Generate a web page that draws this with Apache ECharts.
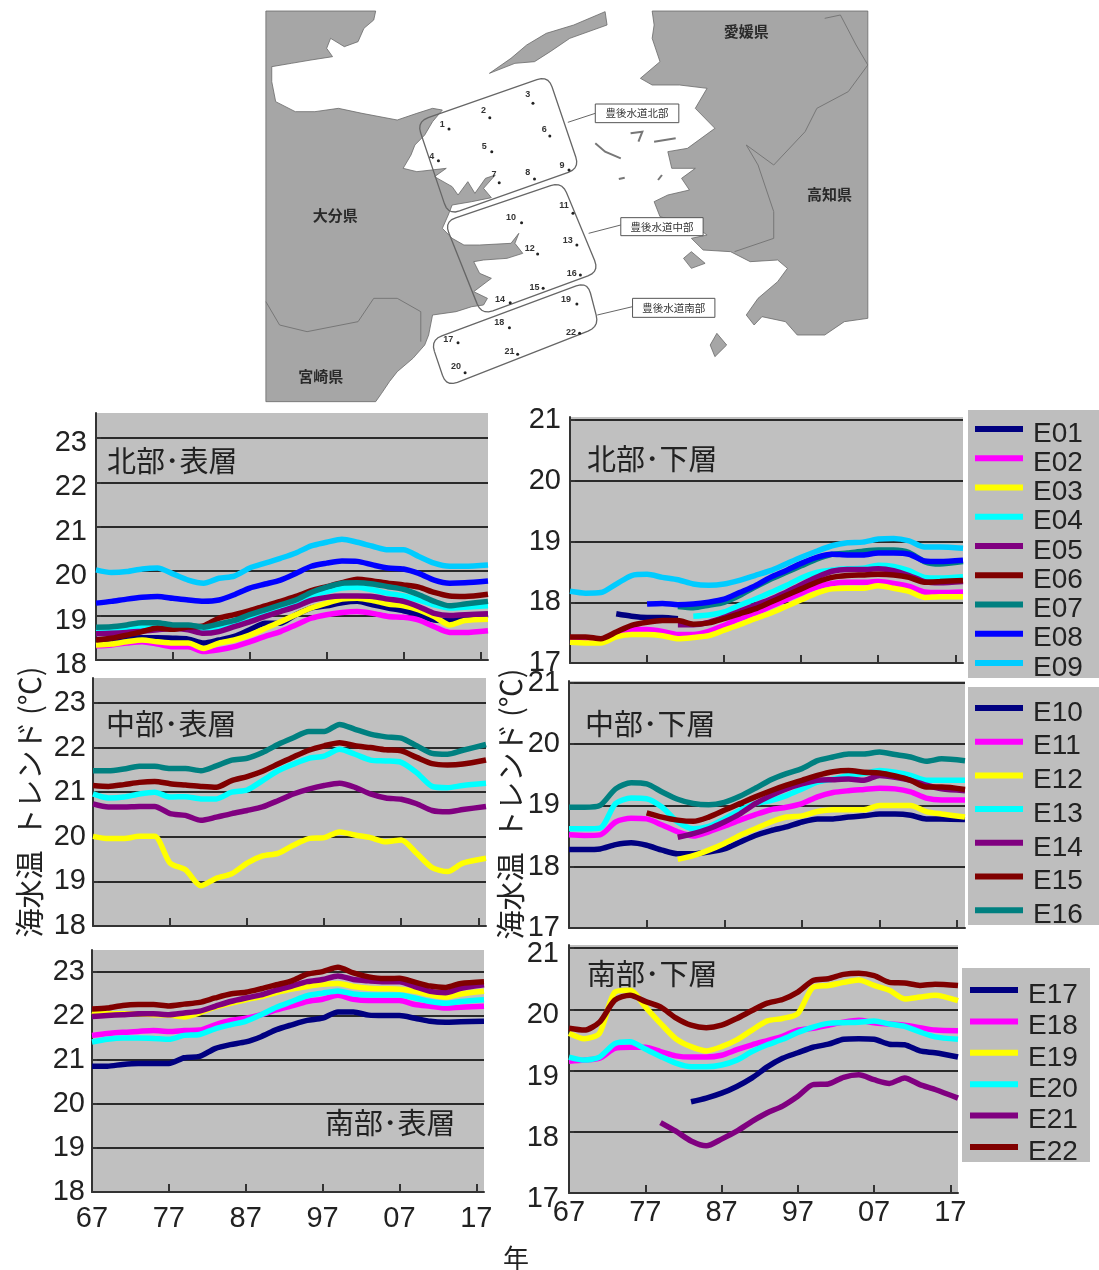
<!DOCTYPE html>
<html><head><meta charset="utf-8">
<style>html,body{margin:0;padding:0;background:#fff}#c{width:1099px;height:1270px;filter:blur(0.5px)}</style>
<script src="https://cdn.jsdelivr.net/npm/echarts@6/dist/echarts.min.js"></script>
</head><body><div id="c"></div>
<script>
const years=[1967,1969,1971,1973,1975,1977,1979,1981,1983,1985,1987,1989,1991,1993,1995,1997,1999,2001,2003,2005,2007,2009,2011,2013,2015,2018];
const tickYears=[1967,1977,1987,1997,2007,2017];
const _=null;
// 北部・表層
const nsE01=[18.45,18.47,18.49,18.50,18.50,18.49,18.47,18.38,18.45,18.53,18.68,18.83,18.83,19.02,19.17,19.22,19.29,19.32,19.24,19.17,19.11,19.02,18.90,18.89,18.96,19.02];
const nsE02=[18.32,18.34,18.38,18.41,18.36,18.30,18.30,18.19,18.23,18.30,18.41,18.53,18.64,18.79,18.94,19.02,19.07,19.09,19.05,18.98,18.96,18.90,18.75,18.62,18.62,18.66];
const nsE03=[18.34,18.36,18.41,18.45,18.41,18.38,18.38,18.26,18.38,18.45,18.56,18.71,18.86,19.02,19.17,19.28,19.37,19.39,19.34,19.26,19.22,19.13,18.98,18.79,18.89,18.92];
const nsE04=[18.64,18.66,18.69,18.75,18.77,18.75,18.75,18.68,18.71,18.81,18.94,19.09,19.20,19.32,19.43,19.54,19.62,19.64,19.58,19.50,19.44,19.35,19.24,19.17,19.19,19.22];
const nsE05=[18.59,18.60,18.62,18.65,18.68,18.71,18.68,18.60,18.64,18.75,18.86,18.98,19.09,19.20,19.34,19.41,19.44,19.44,19.43,19.37,19.32,19.20,19.05,19.00,19.02,19.04];
const nsE06=[18.45,18.49,18.56,18.64,18.72,18.69,18.74,18.77,18.94,19.02,19.11,19.22,19.32,19.43,19.56,19.65,19.74,19.82,19.78,19.73,19.69,19.64,19.52,19.44,19.43,19.48];
const nsE07=[18.74,18.75,18.79,18.84,18.84,18.79,18.79,18.74,18.81,18.89,19.02,19.13,19.24,19.35,19.52,19.64,19.73,19.74,19.71,19.65,19.59,19.47,19.32,19.22,19.26,19.32];
const nsE08=[19.28,19.32,19.37,19.41,19.43,19.39,19.35,19.32,19.35,19.47,19.62,19.71,19.80,19.95,20.11,20.18,20.23,20.22,20.14,20.07,20.05,19.95,19.80,19.73,19.74,19.78];
const nsE09=[20.03,19.97,19.99,20.05,20.07,19.94,19.80,19.73,19.84,19.89,20.07,20.18,20.29,20.41,20.57,20.65,20.72,20.65,20.56,20.48,20.48,20.33,20.18,20.11,20.11,20.14];
// 北部・下層
const nbE01=[_,_,_,17.81,17.77,17.75,17.75,17.73,_,_,_,_,_,_,_,_,_,_,_,_,_,_,_,_,_,_];
const nbE02=[17.37,17.36,17.36,17.48,17.55,17.55,17.52,17.47,17.47,17.52,17.62,17.73,17.82,17.93,18.04,18.15,18.25,18.31,18.33,18.33,18.34,18.31,18.26,18.17,18.16,18.17];
const nbE03=[17.34,17.33,17.33,17.43,17.47,17.47,17.45,17.40,17.42,17.45,17.54,17.63,17.73,17.82,17.93,18.04,18.15,18.22,18.23,18.23,18.27,18.23,18.18,18.08,18.09,18.09];
const nbE04=[_,_,_,_,_,_,_,_,17.77,17.79,17.84,17.95,18.05,18.16,18.27,18.40,18.49,18.53,18.55,18.56,18.61,18.59,18.52,18.41,18.40,18.42];
const nbE05=[_,_,_,_,_,_,_,17.63,17.63,17.67,17.75,17.85,17.95,18.05,18.16,18.29,18.41,18.51,18.54,18.54,18.55,18.52,18.44,18.34,18.32,18.34];
const nbE06=[17.43,17.43,17.40,17.51,17.62,17.67,17.70,17.70,17.64,17.66,17.73,17.81,17.89,18.00,18.11,18.22,18.33,18.41,18.44,18.45,18.46,18.45,18.41,18.33,18.34,18.36];
const nbE07=[_,_,_,_,_,_,_,17.93,17.91,17.95,18.00,18.11,18.25,18.38,18.49,18.60,18.71,18.79,18.81,18.84,18.86,18.86,18.82,18.67,18.63,18.67];
const nbE08=[_,_,_,_,_,17.97,17.98,17.96,17.97,18.00,18.05,18.16,18.27,18.41,18.52,18.64,18.74,18.79,18.78,18.78,18.81,18.81,18.79,18.68,18.67,18.69];
const nbE09=[18.18,18.15,18.16,18.30,18.44,18.46,18.41,18.37,18.30,18.28,18.30,18.36,18.44,18.52,18.63,18.74,18.84,18.93,18.98,18.99,19.04,19.05,19.01,18.91,18.91,18.89];
// 中部・表層
const msE12=[20.01,19.96,19.96,20.01,20.01,19.41,19.26,18.90,19.07,19.17,19.41,19.57,19.63,19.81,19.96,19.98,20.11,20.04,19.98,19.89,19.93,19.63,19.31,19.22,19.41,19.52];
const msE13=[20.96,20.87,20.89,20.96,21.00,20.89,20.90,20.85,20.85,21.00,21.05,21.26,21.48,21.63,21.76,21.81,21.96,21.85,21.72,21.70,21.67,21.44,21.13,21.10,21.15,21.20];
const msE14=[20.74,20.67,20.67,20.68,20.68,20.52,20.48,20.37,20.44,20.52,20.59,20.67,20.81,20.96,21.07,21.15,21.20,21.11,20.96,20.87,20.84,20.74,20.59,20.56,20.61,20.68];
const msE15=[21.15,21.13,21.17,21.22,21.24,21.19,21.16,21.13,21.11,21.26,21.35,21.47,21.63,21.79,21.94,22.04,22.11,22.04,22.00,21.95,21.93,21.78,21.64,21.61,21.63,21.72];
const msE16=[21.48,21.48,21.52,21.58,21.58,21.53,21.53,21.48,21.59,21.72,21.76,21.89,22.07,22.22,22.36,22.36,22.52,22.41,22.30,22.24,22.21,22.04,21.87,21.85,21.94,22.07];
// 中部・下層
const mbE10=[18.28,18.28,18.29,18.36,18.39,18.35,18.27,18.21,18.21,18.24,18.29,18.40,18.51,18.59,18.65,18.73,18.78,18.78,18.81,18.83,18.86,18.86,18.84,18.78,18.78,18.77];
const mbE11=[18.52,18.51,18.52,18.73,18.79,18.78,18.68,18.57,18.50,18.57,18.66,18.76,18.85,18.93,18.97,19.03,19.14,19.21,19.24,19.26,19.28,19.27,19.22,19.12,19.09,19.09];
const mbE12=[_,_,_,_,_,_,_,18.12,18.18,18.27,18.38,18.51,18.62,18.73,18.81,18.83,18.90,18.93,18.93,18.93,19.00,19.00,19.00,18.90,18.86,18.81];
const mbE13=[18.62,18.62,18.63,19.03,19.12,19.11,18.97,18.73,18.62,18.66,18.78,18.92,19.03,19.08,19.16,19.27,19.38,19.43,19.49,19.52,19.57,19.54,19.49,19.41,19.41,19.41];
const mbE14=[_,_,_,_,_,_,_,18.48,18.54,18.62,18.73,18.86,19.03,19.16,19.27,19.35,19.41,19.42,19.43,19.41,19.49,19.46,19.41,19.33,19.27,19.24];
const mbE15=[_,_,_,_,_,18.88,18.81,18.76,18.74,18.81,18.92,19.03,19.14,19.24,19.33,19.41,19.49,19.55,19.57,19.54,19.53,19.48,19.41,19.30,19.30,19.26];
const mbE16=[18.97,18.97,19.00,19.27,19.37,19.35,19.22,19.10,19.03,19.01,19.05,19.15,19.28,19.42,19.52,19.60,19.73,19.79,19.84,19.84,19.87,19.83,19.79,19.72,19.76,19.73];
// 南部・表層
const ssE17=[20.86,20.86,20.90,20.92,20.92,20.92,21.05,21.08,21.26,21.35,21.41,21.53,21.69,21.80,21.90,21.95,22.09,22.09,22.02,22.01,22.01,21.95,21.88,21.86,21.87,21.88];
const ssE18=[21.56,21.60,21.63,21.65,21.67,21.65,21.67,21.68,21.80,21.90,21.95,22.03,22.14,22.23,22.33,22.38,22.47,22.38,22.35,22.35,22.35,22.26,22.22,22.18,22.20,22.22];
const ssE19=[22.10,22.05,22.05,22.05,22.03,22.02,21.98,22.07,22.20,22.29,22.37,22.44,22.53,22.61,22.67,22.72,22.74,22.67,22.63,22.62,22.61,22.56,22.48,22.43,22.50,22.56];
const ssE20=[21.41,21.47,21.50,21.50,21.49,21.47,21.56,21.58,21.71,21.80,21.88,22.03,22.20,22.33,22.46,22.52,22.57,22.50,22.48,22.48,22.48,22.41,22.33,22.29,22.33,22.37];
const ssE21=[21.99,22.01,22.03,22.05,22.05,22.03,22.07,22.11,22.22,22.33,22.41,22.48,22.59,22.68,22.78,22.83,22.91,22.83,22.80,22.78,22.78,22.67,22.56,22.53,22.63,22.71];
const ssE22=[22.16,22.18,22.24,22.26,22.26,22.23,22.27,22.31,22.41,22.50,22.54,22.62,22.71,22.80,22.95,23.01,23.11,22.98,22.89,22.85,22.86,22.77,22.68,22.65,22.74,22.78];
// 南部・下層
const sbE17=[_,_,_,_,_,_,_,_,18.49,18.55,18.63,18.74,18.88,19.06,19.20,19.29,19.38,19.43,19.51,19.52,19.51,19.43,19.42,19.32,19.29,19.22];
const sbE18=[19.15,19.17,19.20,19.36,19.38,19.38,19.31,19.24,19.22,19.22,19.25,19.34,19.42,19.49,19.56,19.66,19.69,19.74,19.79,19.82,19.78,19.76,19.74,19.70,19.66,19.65];
const sbE19=[19.61,19.52,19.61,20.28,20.31,20.04,19.77,19.52,19.39,19.32,19.39,19.50,19.66,19.81,19.85,19.93,20.36,20.39,20.44,20.48,20.39,20.31,20.17,20.20,20.23,20.14];
const sbE20=[19.22,19.17,19.22,19.44,19.47,19.35,19.23,19.12,19.06,19.06,19.09,19.17,19.31,19.42,19.51,19.62,19.71,19.77,19.78,19.79,19.81,19.76,19.72,19.63,19.55,19.51];
const sbE21=[_,_,_,_,_,_,18.15,18.01,17.85,17.77,17.88,18.01,18.17,18.31,18.42,18.58,18.77,18.78,18.89,18.93,18.85,18.79,18.88,18.77,18.69,18.55];
const sbE22=[19.69,19.66,19.79,20.15,20.23,20.13,20.04,19.86,19.74,19.70,19.74,19.85,19.98,20.10,20.16,20.28,20.47,20.50,20.57,20.59,20.55,20.44,20.43,20.39,20.41,20.39];

const groupA=['E01','E02','E03','E04','E05','E06','E07','E08','E09'];
const groupB=['E10','E11','E12','E13','E14','E15','E16'];
const groupC=['E17','E18','E19','E20','E21','E22'];
const colors={E01:'#000080',E02:'#FF00FF',E03:'#FFFF00',E04:'#00FFFF',E05:'#800080',E06:'#800000',E07:'#008080',E08:'#0000FF',E09:'#00CCFF',
 E10:'#000080',E11:'#FF00FF',E12:'#FFFF00',E13:'#00FFFF',E14:'#800080',E15:'#800000',E16:'#008080',
 E17:'#000080',E18:'#FF00FF',E19:'#FFFF00',E20:'#00FFFF',E21:'#800080',E22:'#800000'};

const panels=[
 {title:'北部･表層',tx:107,ty:446,left:96,right:488,top:413,bottom:660,min:18,max:23.56,ticks:[18,19,20,21,22,23],xl:false,dy:5,lm:9,xm:8,
  lines:{E01:nsE01,E02:nsE02,E03:nsE03,E04:nsE04,E05:nsE05,E06:nsE06,E07:nsE07,E08:nsE08,E09:nsE09}},
 {title:'北部･下層',tx:587,ty:444,left:570,right:963,top:417,bottom:663,min:17,max:21.05,ticks:[17,18,19,20,21],xl:false,dy:0,lm:9,xm:8,
  lines:{E01:nbE01,E02:nbE02,E03:nbE03,E04:nbE04,E05:nbE05,E06:nbE06,E07:nbE07,E08:nbE08,E09:nbE09}},
 {title:'中部･表層',tx:106,ty:709,left:93,right:486,top:678,bottom:926,min:18,max:23.56,ticks:[18,19,20,21,22,23],xl:false,dy:0,lm:7,xm:8,
  lines:{E12:msE12,E13:msE13,E14:msE14,E15:msE15,E16:msE16}},
 {title:'中部･下層',tx:585,ty:709,left:569,right:965,top:681,bottom:928,min:17,max:21.03,ticks:[17,18,19,20,21],xl:false,dy:0,lm:9,xm:8,
  lines:{E10:mbE10,E11:mbE11,E12:mbE12,E13:mbE13,E14:mbE14,E15:mbE15,E16:mbE16}},
 {title:'南部･表層',tx:325,ty:1108,left:92,right:484,top:950,bottom:1192,min:18,max:23.5,ticks:[18,19,20,21,22,23],xl:true,dy:0,lm:7,xm:12,
  lines:{E17:ssE17,E18:ssE18,E19:ssE19,E20:ssE20,E21:ssE21,E22:ssE22}},
 {title:'南部･下層',tx:587,ty:959,left:569,right:958,top:945,bottom:1193,min:17,max:21.05,ticks:[17,18,19,20,21],xl:true,dy:6,lm:10,xm:5,
  lines:{E17:sbE17,E18:sbE18,E19:sbE19,E20:sbE20,E21:sbE21,E22:sbE22}}
];

// 地図（装飾）: crop-space outlines
const landWest=[[15,18],[295,18],[290,45],[265,70],[250,110],[215,125],[180,100],[170,130],[185,155],[130,165],[80,175],[30,185],[30,230],[40,290],[90,320],[140,320],[200,310],[260,325],[350,345],[400,325],[440,310],[465,315],[440,350],[420,390],[395,420],[385,450],[365,490],[400,500],[475,490],[445,515],[490,545],[505,570],[530,530],[548,565],[575,520],[600,510],[570,550],[590,578],[540,590],[490,600],[480,630],[465,670],[490,700],[520,720],[560,720],[640,715],[660,685],[650,715],[670,745],[630,760],[570,765],[545,770],[560,805],[590,820],[545,860],[580,880],[570,900],[540,905],[500,920],[440,930],[430,990],[420,1020],[390,1060],[350,1100],[330,1130],[310,1165],[295,1190],[15,1190]];
const landEast=[[1000,18],[1550,18],[1550,940],[1490,950],[1440,990],[1370,990],[1340,950],[1280,935],[1260,960],[1240,930],[1270,880],[1320,830],[1345,790],[1320,765],[1250,770],[1200,740],[1130,735],[1100,700],[1140,690],[1110,665],[1020,635],[1005,590],[1040,570],[1095,555],[1075,520],[1110,490],[1050,490],[1040,440],[1090,430],[1160,370],[1110,310],[1140,250],[1070,240],[1000,240],[970,220],[1020,170],[1000,100],[1005,60]];
const islands=[[[585,205],[640,160],[680,120],[730,85],[800,60],[860,30],[880,20],[885,60],[790,100],[740,140],[700,170],[650,175]],
 [[1080,760],[1100,740],[1135,775],[1100,790]],[[1148,1020],[1165,985],[1190,1020],[1160,1055]]];
const coastBits=[[[855,415],[880,440],[920,460]],[[945,385],[975,380],[965,410]],[[1005,410],[1060,400]],[[915,522],[930,518]],[[1015,525],[1025,510]]];
const borders=[[[1440,40],[1480,30],[1520,120],[1550,180],[1500,260],[1420,310],[1390,380],[1310,480],[1240,420],[1270,480],[1310,620],[1310,700],[1210,740]],
 [[15,890],[50,960],[120,980],[250,950],[290,880],[350,880],[410,920],[410,1010]]];
const regionBoxes=[[[400,350],[735,212],[815,490],[480,630]],[[470,650],[770,530],[865,800],[565,930]],[[435,1005],[835,830],[865,965],[475,1145]]];
const regionLabels=[{t:'豊後水道北部',b:[855,297,1068,353],l:[[785,352],[855,325]]},{t:'豊後水道中部',b:[920,638,1130,692],l:[[838,685],[920,660]]},{t:'豊後水道南部',b:[950,880,1160,937],l:[[860,930],[950,905]]}];
const prefLabels=[['愛媛県',1240,78],['高知県',1452,567],['大分県',192,630],['宮崎県',155,1113]];
const stations=[['1',465,358,482,372],['2',570,318,586,338],['3',683,270,696,295],['4',438,455,455,467],['5',572,425,591,440],['6',725,375,739,393],['7',597,510,610,533],['8',683,503,700,522],['9',770,482,788,495],['10',640,638,667,653],['11',775,603,798,625],['12',688,730,708,747],['13',785,708,808,720],['14',612,885,638,893],['15',700,848,722,850],['16',795,805,817,810],['17',480,1003,505,1013],['18',610,952,636,968],['19',780,885,808,897],['20',500,1085,523,1103],['21',636,1040,657,1048],['22',793,982,815,985]];

const mx=x=>260+x/2.55, my=y=>5+y/3, mp=p=>[mx(p[0]),my(p[1])];
function rounded(corners,r){
  const pts=[],n=corners.length,C=corners.map(mp);
  for(let i=0;i<n;i++){
    const a=C[(i+n-1)%n],b=C[i],c=C[(i+1)%n];
    const la=Math.hypot(a[0]-b[0],a[1]-b[1]),lc=Math.hypot(c[0]-b[0],c[1]-b[1]);
    const s=[b[0]+(a[0]-b[0])*r/la,b[1]+(a[1]-b[1])*r/la],e=[b[0]+(c[0]-b[0])*r/lc,b[1]+(c[1]-b[1])*r/lc];
    for(let t=0;t<=1.001;t+=0.2){const u=1-t;pts.push([u*u*s[0]+2*u*t*b[0]+t*t*e[0],u*u*s[1]+2*u*t*b[1]+t*t*e[1]]);}
  }
  pts.push(pts[0]);return pts;
}
const CJK='"Noto Sans CJK JP","Noto Sans",sans-serif';
const TICKFONT='"Liberation Sans",Arial,sans-serif';
const LAND='#A6A6A6',EDGE='#6a6a6a';
const gfx=[];
const legendBoxes=[[968,410,131,268],[968,687,131,238],[962,968,128,194]];
legendBoxes.forEach(b=>gfx.push({type:'rect',shape:{x:b[0],y:b[1],width:b[2],height:b[3]},style:{fill:'#BEBEBE'},z:-1}));
gfx.push({type:'rect',shape:{x:265,y:11,width:603,height:391},style:{fill:'#fff'},z:1});
[landWest,landEast].concat(islands).forEach(p=>gfx.push({type:'polygon',shape:{points:p.map(mp)},style:{fill:LAND,stroke:EDGE,lineWidth:0.8},z:2}));
borders.forEach(p=>gfx.push({type:'polyline',shape:{points:p.map(mp)},style:{stroke:'#777',lineWidth:1,fill:'none'},z:3}));
coastBits.forEach(p=>gfx.push({type:'polyline',shape:{points:p.map(mp)},style:{stroke:'#777',lineWidth:2,fill:'none'},z:3}));
regionBoxes.forEach(c=>gfx.push({type:'polyline',shape:{points:rounded(c,12)},style:{stroke:'#666',lineWidth:1.3,fill:'none'},z:4}));
regionLabels.forEach(o=>{
  gfx.push({type:'polyline',shape:{points:o.l.map(mp)},style:{stroke:'#666',lineWidth:1,fill:'none'},z:4});
  gfx.push({type:'rect',shape:{x:mx(o.b[0]),y:my(o.b[1]),width:mx(o.b[2])-mx(o.b[0]),height:my(o.b[3])-my(o.b[1])},style:{fill:'#fff',stroke:'#555',lineWidth:1},z:4});
  gfx.push({type:'text',x:(mx(o.b[0])+mx(o.b[2]))/2,y:(my(o.b[1])+my(o.b[3]))/2,style:{text:o.t,font:'10.5px '+CJK,fill:'#333',align:'center',verticalAlign:'middle'},z:5});
});
prefLabels.forEach(o=>gfx.push({type:'text',x:mx(o[1]),y:my(o[2]),style:{text:o[0],font:'bold 15px '+CJK,fill:'#2a2a2a',align:'center',verticalAlign:'middle'},z:5}));
stations.forEach(s=>{
  gfx.push({type:'text',x:mx(s[1]),y:my(s[2]),style:{text:s[0],font:'bold 9px "Liberation Sans",sans-serif',fill:'#333',align:'center',verticalAlign:'middle'},z:5});
  gfx.push({type:'circle',shape:{cx:mx(s[3]),cy:my(s[4]),r:1.5},style:{fill:'#222'},z:5});
});
[[30,802],[511,804]].forEach(p=>gfx.push({type:'text',x:p[0],y:p[1],rotation:Math.PI/2,style:{text:'海水温  トレンド (℃)',font:'29px '+CJK,fill:'#222',align:'center',verticalAlign:'middle'},z:5}));
gfx.push({type:'text',x:516,y:1258,style:{text:'年',font:'26px '+CJK,fill:'#222',align:'center',verticalAlign:'middle'},z:5});

const AX='#333',W=1099,H=1270,TS=29;
const option={animation:false,backgroundColor:'#fff',
 graphic:{elements:gfx},
 title:panels.map(p=>({text:p.title,left:p.tx,top:p.ty,padding:0,textStyle:{fontFamily:CJK,fontWeight:'normal',fontSize:29,color:'#222'}})),
 legend:[[groupA,975,410,-8.75],[groupB,975,689,-4.3],[groupC,970,971,-6.6]].map(l=>({data:l[0],orient:'vertical',left:l[1],top:l[2],padding:0,itemGap:l[3],icon:'rect',itemWidth:48,itemHeight:6,
   selectedMode:false,formatter:'{a|{name}}',
   textStyle:{rich:{a:{fontFamily:TICKFONT,fontSize:28,lineHeight:18,color:'#222',padding:[10,0,0,5]}}}})),
 grid:panels.map(p=>({left:p.left,top:p.top,width:p.right-p.left,height:p.bottom-p.top,show:true,backgroundColor:'#C0C0C0',borderWidth:0})),
 xAxis:panels.map((p,i)=>({type:'value',gridIndex:i,min:1967,max:2018,
   axisLine:{show:true,onZero:false,lineStyle:{color:AX,width:2}},
   axisTick:{show:true,inside:true,length:8,customValues:tickYears,lineStyle:{color:AX,width:2}},
   axisLabel:{show:p.xl,customValues:tickYears,margin:p.xm,fontFamily:TICKFONT,fontSize:TS,color:'#222',hideOverlap:false,formatter:v=>String(v).slice(2)},
   splitLine:{show:false}})),
 yAxis:panels.map((p,i)=>({type:'value',gridIndex:i,min:p.min,max:p.max,
   axisLine:{show:true,onZero:false,lineStyle:{color:AX,width:2}},
   axisTick:{show:true,inside:true,length:5,customValues:p.ticks,lineStyle:{color:AX,width:2}},
   axisLabel:{customValues:p.ticks,margin:p.lm,hideOverlap:false,formatter:v=>'{a|'+v+'}',
     rich:{a:{fontFamily:TICKFONT,fontSize:TS,color:'#222',padding:[2*p.dy,0,0,0]}}},
   splitLine:{show:true,customValues:p.ticks,showMinLine:false,showMaxLine:true,lineStyle:{color:'#2a2a2a',width:2}}})),
 series:panels.flatMap((p,i)=>Object.keys(p.lines).map(name=>({name,type:'line',xAxisIndex:i,yAxisIndex:i,
   data:years.map((y,k)=>[y,p.lines[name][k]]),connectNulls:false,showSymbol:false,symbol:'none',smooth:0.25,silent:true,
   lineStyle:{color:colors[name],width:5.5},itemStyle:{color:colors[name]}})))
};
const chart=echarts.init(document.getElementById('c'),null,{renderer:'canvas',width:W,height:H});
chart.setOption(option);
</script></body></html>
